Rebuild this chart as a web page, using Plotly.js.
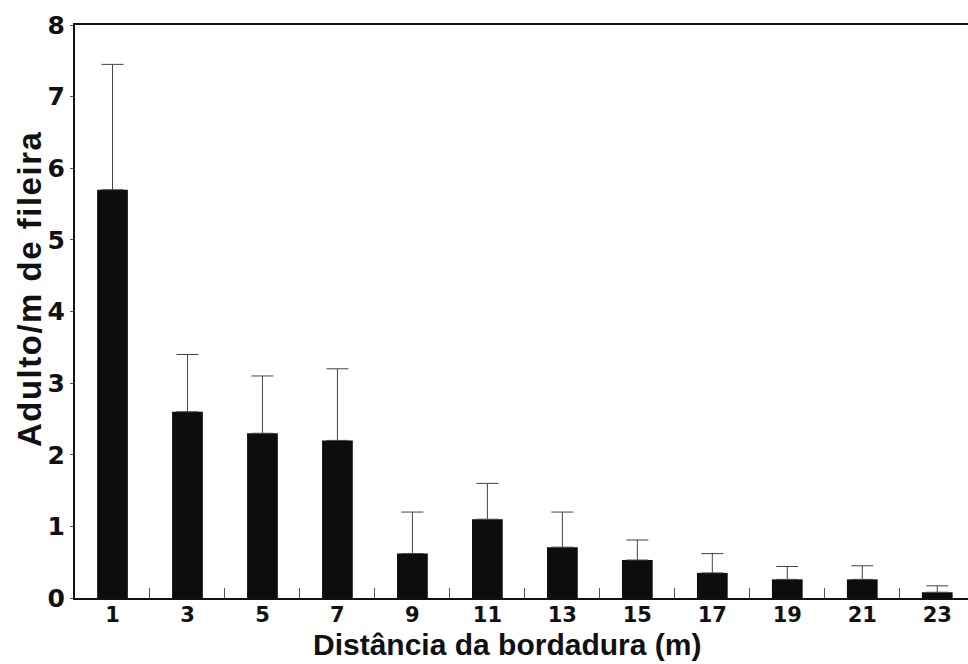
<!DOCTYPE html>
<html>
<head>
<meta charset="utf-8">
<script src="https://cdn.plot.ly/plotly-3.0.1.min.js"></script>
<style>html,body{margin:0;padding:0;background:#fff;}</style>
</head>
<body>
<div id="chart" style="width:968px;height:664px;"></div>
<script>
const distances = ['1','3','5','7','9','11','13','15','17','19','21','23'];
const adultMeans = [5.7, 2.6, 2.3, 2.2, 0.62, 1.1, 0.71, 0.53, 0.35, 0.26, 0.26, 0.08];
const errorUpper = [1.75, 0.8, 0.8, 1.0, 0.58, 0.5, 0.49, 0.28, 0.27, 0.18, 0.19, 0.09];
const yTickVals = [0,1,2,3,4,5,6,7,8];
const xTitle = 'Distância da bordadura (m)';
const yTitle = 'Adulto/m de fileira';

const trace = {
  type: 'bar',
  x: distances,
  y: adultMeans,
  width: 0.41,
  marker: {color: '#0d0d0d', line: {width: 0}},
  error_y: {
    type: 'data',
    symmetric: false,
    array: errorUpper,
    arrayminus: adultMeans.map(() => 0),
    color: '#444',
    thickness: 1,
    width: 11
  },
  hoverinfo: 'x+y'
};

const layout = {
  width: 968,
  height: 664,
  margin: {l: 75, r: 0, t: 25, b: 66},
  paper_bgcolor: '#fff',
  plot_bgcolor: '#fff',
  showlegend: false,
  xaxis: {
    type: 'category',
    range: [-0.5, 11.41],
    showline: true,
    linecolor: '#111',
    linewidth: 2,
    mirror: true,
    showgrid: false,
    zeroline: false,
    ticks: 'inside',
    tickson: 'boundaries',
    ticklen: 10,
    tickwidth: 1,
    tickcolor: '#555',
    ticklabelstandoff: -3,
    tickfont: {family: 'DejaVu Sans', size: 21, color: '#111', weight: 'bold'}
  },
  yaxis: {
    range: [0, 8],
    tickvals: yTickVals,
    showline: true,
    linecolor: '#111',
    linewidth: 2,
    showgrid: false,
    zeroline: false,
    ticks: 'outside',
    ticklen: 3,
    tickwidth: 1,
    tickcolor: '#555',
    ticklabelstandoff: 0,
    tickfont: {family: 'DejaVu Sans', size: 25, color: '#111', weight: 'bold'}
  },
  annotations: [
    {
      text: '<b>' + xTitle + '</b>',
      xref: 'paper', yref: 'paper',
      x: 0.484, y: -0.0815,
      xanchor: 'center', yanchor: 'middle',
      showarrow: false,
      font: {family: 'Liberation Sans, Arial', size: 30, color: '#111'}
    },
    {
      text: '<span style="letter-spacing:1.5px"><b>' + yTitle + '</b></span>',
      xref: 'paper', yref: 'paper',
      x: -0.051, y: 0.54,
      xanchor: 'center', yanchor: 'middle',
      textangle: -90,
      showarrow: false,
      font: {family: 'Liberation Sans, Arial', size: 33, color: '#111'}
    }
  ]
};

Plotly.newPlot('chart', [trace], layout, {displayModeBar: false, staticPlot: true});
</script>
</body>
</html>
